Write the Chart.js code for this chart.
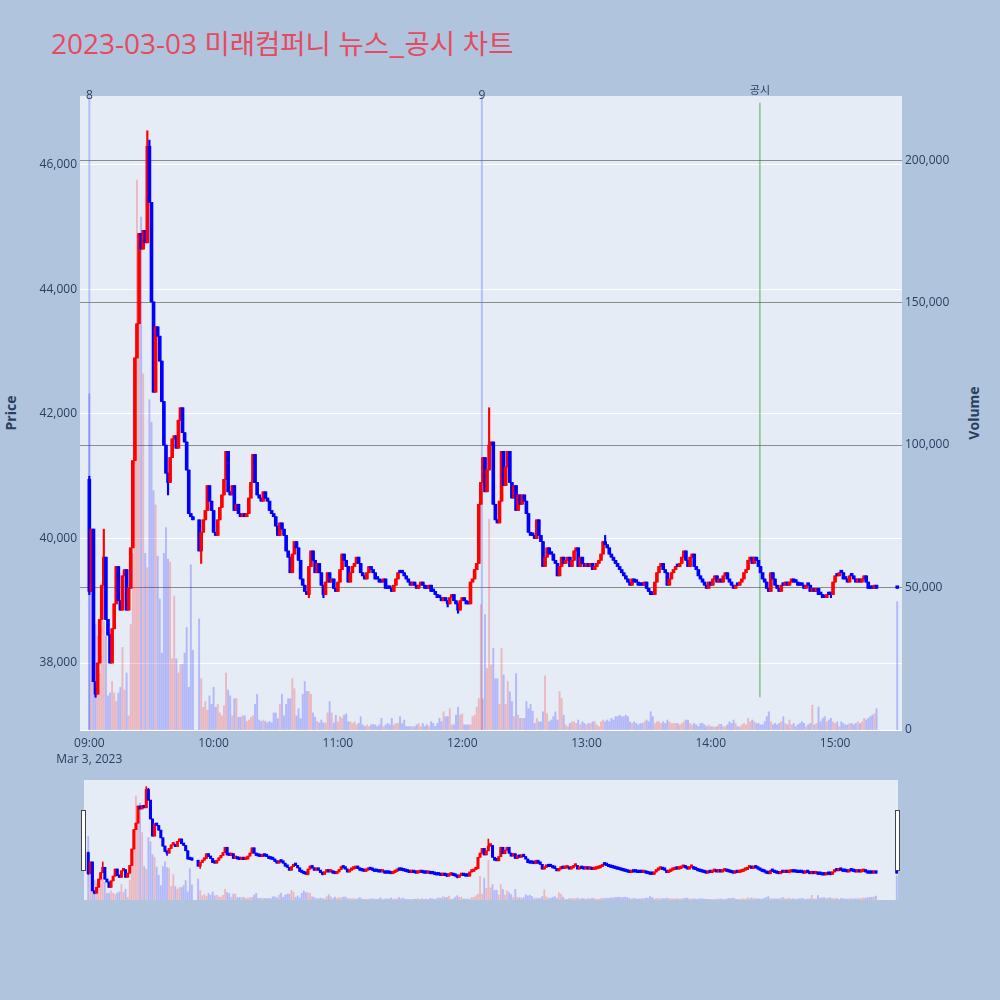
<!DOCTYPE html>
<html lang="ko">
<head>
<meta charset="utf-8">
<title>2023-03-03 미래컴퍼니 뉴스_공시 차트</title>
<script src="https://cdn.jsdelivr.net/npm/chart.js@4.4.1/dist/chart.umd.min.js"></script>
<style>
  body { margin: 0; background: #b0c4de; }
  #wrap { position: relative; width: 1000px; height: 1000px; overflow: hidden; }
  #title { position: absolute; left: 51px; top: 24px; font-family: "Open Sans", sans-serif; font-size: 28px; line-height: 36px; color: #e64a5f; white-space: nowrap; }
  #title .ko { font-family: "Noto Sans CJK KR", sans-serif; font-size: 27.5px; }
  .axis-title { position: absolute; transform: translate(-50%, -50%) rotate(-90deg); font-family: "Open Sans", sans-serif; font-weight: bold; font-size: 14px; color: #2a3f5f; white-space: nowrap; }
  #main { position: absolute; left: 0; top: 0; }
  #slider { position: absolute; left: 84px; top: 780px; background: #e5ecf6; }
  .handle { position: absolute; top: 810px; width: 3px; height: 59px; background: #fff; border: 1px solid #444; }
</style>
</head>
<body>
<div id="wrap">
  <div id="title">2023-03-03 <span class="ko">미래컴퍼니 뉴스_공시 차트</span></div>
  <div class="axis-title" style="left:10px;top:413px;">Price</div>
  <div class="axis-title" style="left:973px;top:413px;">Volume</div>
  <canvas id="main" width="1000" height="780"></canvas>
  <canvas id="slider" width="814" height="120"></canvas>
  <div class="handle" style="left:81px;"></div>
  <div class="handle" style="left:895px;"></div>
</div>
<script>
// minute index from 09:00 (0 = 09:00, 390 = 15:30 closing auction)
const firstOpen = 40950;

// 1분봉 종가
const closes = [
  39150, 40150, 37700, 37500, 38000, 38700, 39250, 39700, 38700, 38450,
  38000, 38550, 38950, 39550, 39000, 38850, 39400, 39500, 38850, 39200,
  39850, 41250, 42900, 43450, 44900, 44650, 44950, 44750, 46300, 45400,
  43800, 42350, 43400, 43250, 42850, 42200, 41500, 41050, 40900, 41300,
  41600, 41650, 41450, 41900, 42100, 41700, 41550, 41100, 40400, 40350,
  40300, null, null, 39800, 40100, 40300, 40450, 40850, 40600, 40450,
  40100, 40050, 40300, 40500, 40700, 40950, 41400, 40750, 40700, 40850,
  40450, 40550, 40400, 40350, 40400, 40350, 40400, 40650, 40900, 41350,
  40900, 40700, 40650, 40600, 40750, 40650, 40600, 40450, 40400, 40350,
  40200, 40050, 40250, 40150, 40050, 39800, 39700, 39450, 39750, 39950,
  39850, 39650, 39350, 39250, 39150, 39100, 39550, 39800, 39650, 39450,
  39600, 39450, 39250, 39100, 39300, 39450, 39300, 39350, 39200, 39150,
  39300, 39500, 39750, 39650, 39550, 39300, 39450, 39550, 39600, 39700,
  39600, 39450, 39400, 39350, 39450, 39550, 39500, 39450, 39350, 39350,
  39300, 39300, 39350, 39200, 39200, 39200, 39150, 39250, 39350, 39450,
  39450, 39450, 39400, 39350, 39300, 39250, 39300, 39250, 39200, 39250,
  39300, 39250, 39200, 39200, 39250, 39150, 39150, 39100, 39050, 39050,
  39000, 39050, 39000, 38950, 39050, 39100, 39000, 38950, 38850, 39000,
  39050, 39000, 38950, 38950, 39300, 39350, 39500, 39600, 40550, 40900,
  41300, 40750, 41100, 41500, 41550, 40550, 40300, 40250, 40600, 41400,
  40850, 41150, 41400, 40900, 40650, 40850, 40450, 40700, 40550, 40700,
  40600, 40400, 40100, 40050, 40050, 40000, 40300, 40050, 39950, 39550,
  39700, 39850, 39750, 39750, 39650, 39600, 39400, 39550, 39700, 39600,
  39650, 39700, 39550, 39650, 39800, 39850, 39550, 39700, 39600, 39550,
  39600, 39550, 39600, 39500, 39550, 39600, 39650, 39750, 39950, 39900,
  39850, 39750, 39700, 39650, 39600, 39550, 39500, 39450, 39400, 39350,
  39300, 39250, 39350, 39300, 39300, 39250, 39250, 39250, 39300, 39200,
  39150, 39100, 39100, 39300, 39450, 39550, 39600, 39500, 39450, 39250,
  39350, 39450, 39500, 39550, 39550, 39600, 39700, 39800, 39650, 39550,
  39700, 39750, 39550, 39500, 39400, 39350, 39300, 39250, 39200, 39300,
  39250, 39350, 39400, 39300, 39350, 39300, 39400, 39450, 39350, 39300,
  39250, 39200, 39250, 39250, 39300, 39350, 39450, 39500, 39650, 39700,
  39600, 39700, 39650, 39550, 39450, 39350, 39300, 39200, 39150, 39450,
  39350, 39250, 39200, 39150, 39250, 39250, 39300, 39250, 39300, 39350,
  39300, 39300, 39250, 39250, 39250, 39200, 39250, 39250, 39150, 39200,
  39150, 39200, 39100, 39100, 39050, 39050, 39100, 39100, 39100, 39300,
  39400, 39400, 39450, 39450, 39350, 39350, 39300, 39400, 39400, 39350,
  39300, 39350, 39300, 39350, 39400, 39300, 39200, 39200, 39200, 39250,
  39200, null, null, null, null, null, null, null, null, null,
  39200,
];

// 1분봉 거래량
const volumes = [
  118000, 69000, 53000, 37000, 33000, 20000, 42000, 38000, 33000, 12000,
  13000, 17000, 13000, 10000, 13000, 15000, 29000, 14000, 20000, 5000,
  37000, 62000, 131000, 193000, 170000, 180000, 125000, 62000, 57000, 116000,
  108000, 84000, 79000, 61000, 46000, 27000, 62000, 71000, 60000, 59000,
  25000, 47000, 25000, 20000, 23000, 23000, 27000, 36000, 15000, 58000,
  28000, null, null, 39000, 18000, 8000, 10000, 7000, 12000, 9000,
  15000, 8000, 9000, 6000, 5000, 8500, 20000, 14000, 12000, 5000,
  11000, 11000, 4500, 4500, 5000, 5000, 3000, 3500, 4500, 5000,
  9000, 12500, 3500, 3000, 3500, 3000, 2500, 3000, 2500, 6000,
  6000, 4000, 9000, 12500, 5000, 9000, 11000, 11000, 18000, 14500,
  5000, 7500, 4000, 12500, 17000, 13500, 13500, 12500, 6000, 4500,
  3000, 2500, 3500, 2500, 2500, 6000, 10000, 6000, 2500, 5200,
  2900, 4700, 4100, 5200, 5700, 2900, 2900, 2300, 2900, 1800,
  2300, 4700, 1800, 1200, 1800, 1200, 1800, 2000, 1800, 1200,
  1800, 4100, 1200, 1800, 2300, 1800, 4100, 1800, 2300, 2300,
  4700, 2300, 3500, 1200, 1200, 1200, 1200, 1200, 1800, 2300,
  1200, 2300, 1200, 1800, 1200, 2900, 2300, 1200, 2300, 4100,
  2900, 6400, 4700, 4700, 7500, 1800, 1800, 5200, 8000, 5200,
  5700, 1800, 1800, 1800, 1800, 4700, 5200, 8000, 11000, 44000,
  11000, 40500, 21600, 74000, 22800, 28600, 18000, 18000, 9000, 28600,
  19300, 9000, 17000, 13400, 10000, 4700, 19800, 5200, 4100, 4100,
  4100, 10000, 7500, 9000, 6600, 2300, 4100, 2900, 2900, 6400,
  19000, 5700, 2900, 3500, 4700, 6400, 3500, 13500, 11000, 5200,
  1800, 1200, 2300, 2900, 2900, 2300, 3500, 1800, 2900, 2300,
  1800, 2300, 2300, 2900, 2900, 1800, 1200, 2900, 3500, 2900,
  3500, 2900, 4100, 3500, 4700, 4700, 5200, 4700, 4700, 5200,
  4700, 2900, 2300, 2900, 2300, 1800, 2300, 2300, 2900, 3500,
  2900, 6400, 4700, 2300, 2900, 2900, 2300, 2900, 2300, 3500,
  2900, 2300, 2300, 2300, 2300, 1800, 2300, 2900, 3500, 3500,
  2300, 1800, 2300, 1800, 1200, 2300, 2300, 1800, 1200, 1800,
  1200, 1200, 1000, 1200, 2000, 2000, 1200, 1200, 1800, 2900,
  2300, 3500, 2300, 1200, 1200, 1800, 2300, 1800, 4100, 2900,
  3500, 2900, 2300, 2300, 1800, 1800, 2900, 4700, 6400, 2900,
  1800, 2300, 1800, 2300, 2900, 4700, 2300, 1800, 3500, 1800,
  2300, 1200, 1800, 2300, 2900, 2300, 1200, 1800, 2300, 8700,
  1800, 2300, 8100, 2900, 4100, 4700, 2900, 3500, 4100, 2900,
  2300, 2900, 1200, 2900, 2300, 1800, 1800, 2300, 2300, 1800,
  2300, 2900, 2300, 2900, 4100, 3500, 4100, 4700, 5200, 5700,
  7500, null, null, null, null, null, null, null, null, null,
  45000,
];

// 꼬리(고가/저가)가 몸통 밖으로 나온 봉
const wickTimes = [0, 3, 7, 28, 29, 38, 54, 106, 113, 173, 178, 193, 249, 358];
const wickHighs = [41000, null, 40150, 46550, 46400, null, null, null, null, null, null, 42100, 40050, null];
const wickLows = [39100, 37450, null, null, null, 40700, 39600, 39050, 39050, 38900, 38800, null, null, 39050];

const timeTicks = [0, 60, 120, 180, 240, 300, 360];
const timeLabels = ["09:00", "10:00", "11:00", "12:00", "13:00", "14:00", "15:00"];
const dateLabel = "Mar 3, 2023";
const priceTicks = [38000, 40000, 42000, 44000, 46000];
const volumeTicks = [0, 50000, 100000, 150000, 200000];

// 뉴스 건수 / 공시 표시
const newsTimes = [0, 189.5];
const newsCounts = ["8", "9"];
const disclosureTimes = [323.7];
const disclosureLabels = ["공시"];
const markerLow = 37450;
const markerHigh = 47000;

const UP = "rgb(255,0,0)";
const DOWN = "rgb(0,0,255)";
const UP_VOL = "rgba(255,0,0,0.22)";
const DOWN_VOL = "rgba(0,0,255,0.22)";
const TEXT = "#2a3f5f";

Chart.defaults.font.family = '"Open Sans", sans-serif';
Chart.defaults.font.size = 12;
Chart.defaults.color = TEXT;

// 봉 데이터 구성
const candles = [];
let prevClose = firstOpen;
closes.forEach((c, t) => {
  if (c === null) return;
  const o = prevClose;
  prevClose = c;
  let hi = Math.max(o, c);
  let lo = Math.min(o, c);
  const w = wickTimes.indexOf(t);
  if (w >= 0) {
    if (wickHighs[w] !== null) hi = wickHighs[w];
    if (wickLows[w] !== null) lo = wickLows[w];
  }
  candles.push({ t, o, c, hi, lo, up: c > o });
});

function makeDatasets(bodyW, wickW, volW) {
  return [
    {
      label: "Volume",
      yAxisID: "yVol",
      order: 3,
      grouped: false,
      barThickness: volW,
      data: candles.map((k) => ({ x: k.t, y: volumes[k.t] })),
      backgroundColor: candles.map((k) => (k.up ? UP_VOL : DOWN_VOL)),
    },
    {
      label: "wick",
      yAxisID: "yPrice",
      order: 2,
      grouped: false,
      barThickness: wickW,
      data: candles.map((k) => ({ x: k.t, y: [k.lo, k.hi] })),
      backgroundColor: candles.map((k) => (k.up ? UP : DOWN)),
    },
    {
      label: "Price",
      yAxisID: "yPrice",
      order: 1,
      grouped: false,
      barThickness: bodyW,
      minBarLength: 2.5,
      data: candles.map((k) => ({ x: k.t, y: [k.o, k.c] })),
      backgroundColor: candles.map((k) => (k.up ? UP : DOWN)),
    },
  ];
}

const plotBg = {
  id: "plotBg",
  beforeDraw(chart) {
    const { ctx, chartArea: a } = chart;
    ctx.save();
    ctx.fillStyle = "#e5ecf6";
    ctx.fillRect(a.left, a.top, a.right - a.left, a.bottom - a.top);
    ctx.restore();
  },
};

const markers = {
  id: "markers",
  beforeDatasetsDraw(chart) {
    const { ctx, scales } = chart;
    const top = scales.yPrice.getPixelForValue(markerHigh);
    const bottom = scales.yPrice.getPixelForValue(markerLow);
    ctx.save();
    ctx.lineWidth = 2;
    ctx.strokeStyle = "rgba(80,110,255,0.35)";
    newsTimes.forEach((t) => {
      const x = scales.x.getPixelForValue(t);
      ctx.beginPath();
      ctx.moveTo(x, chart.chartArea.top);
      ctx.lineTo(x, chart.chartArea.bottom);
      ctx.stroke();
    });
    ctx.lineWidth = 1.5;
    ctx.strokeStyle = "rgba(0,150,0,0.45)";
    disclosureTimes.forEach((t) => {
      const x = scales.x.getPixelForValue(t);
      ctx.beginPath();
      ctx.moveTo(x, top);
      ctx.lineTo(x, bottom);
      ctx.stroke();
    });
    ctx.restore();
  },
  afterDraw(chart) {
    const { ctx, scales } = chart;
    ctx.save();
    ctx.fillStyle = TEXT;
    ctx.textAlign = "center";
    ctx.textBaseline = "middle";
    ctx.font = '12px "Open Sans", sans-serif';
    newsTimes.forEach((t, i) => {
      ctx.fillText(newsCounts[i], scales.x.getPixelForValue(t), 96);
    });
    ctx.font = '11px "Noto Sans CJK KR", sans-serif';
    disclosureTimes.forEach((t, i) => {
      ctx.fillText(disclosureLabels[i], scales.x.getPixelForValue(t), 90);
    });
    ctx.restore();
  },
};

const mainChart = new Chart(document.getElementById("main"), {
  type: "bar",
  data: { datasets: makeDatasets(3, 1.5, 1.3) },
  options: {
    responsive: false,
    animation: false,
    layout: { padding: { top: 96, left: 0, right: 0, bottom: 0 } },
    plugins: { legend: { display: false }, tooltip: { enabled: false } },
    scales: {
      x: {
        type: "linear",
        min: -4.5,
        max: 392.3,
        offset: false,
        grid: { display: false, drawTicks: false },
        border: { display: false },
        afterBuildTicks: (axis) => {
          axis.ticks = timeTicks.map((v) => ({ value: v }));
        },
        afterFit: (axis) => {
          axis.height = 50;
        },
        ticks: {
          autoSkip: false,
          maxRotation: 0,
          padding: 5,
          font: { size: 12, lineHeight: 1.35 },
          callback: (v) => {
            const i = timeTicks.indexOf(v);
            return i === 0 ? [timeLabels[i], dateLabel] : timeLabels[i];
          },
        },
      },
      yPrice: {
        type: "linear",
        position: "left",
        min: 36924,
        max: 47108,
        border: { display: false },
        grid: { color: "#ffffff", lineWidth: 1, drawTicks: false },
        afterBuildTicks: (axis) => {
          axis.ticks = priceTicks.map((v) => ({ value: v }));
        },
        afterFit: (axis) => {
          axis.width = 80;
        },
        ticks: {
          padding: 3,
          callback: (v) => v.toLocaleString("en-US"),
        },
      },
      yVol: {
        type: "linear",
        position: "right",
        min: 0,
        max: 222500,
        border: { display: false },
        grid: {
          color: (c) => (c.tick && c.tick.value === 0 ? "#ffffff" : "#8c8c8c"),
          lineWidth: 1,
          drawTicks: false,
        },
        afterBuildTicks: (axis) => {
          axis.ticks = volumeTicks.map((v) => ({ value: v }));
        },
        afterFit: (axis) => {
          axis.width = 98;
        },
        ticks: {
          padding: 3,
          callback: (v) => v.toLocaleString("en-US"),
        },
      },
    },
  },
  plugins: [plotBg, markers],
});

// 하단 range slider 미니 차트
const sliderChart = new Chart(document.getElementById("slider"), {
  type: "bar",
  data: { datasets: makeDatasets(2.4, 1, 1.2) },
  options: {
    responsive: false,
    animation: false,
    layout: { padding: 0 },
    plugins: { legend: { display: false }, tooltip: { enabled: false } },
    scales: {
      x: { type: "linear", min: -2.05, max: 390.6, offset: false, display: false },
      yPrice: { type: "linear", min: 36924, max: 47108, display: false },
      yVol: { type: "linear", min: 0, max: 222500, display: false },
    },
  },
});
</script>
</body>
</html>
